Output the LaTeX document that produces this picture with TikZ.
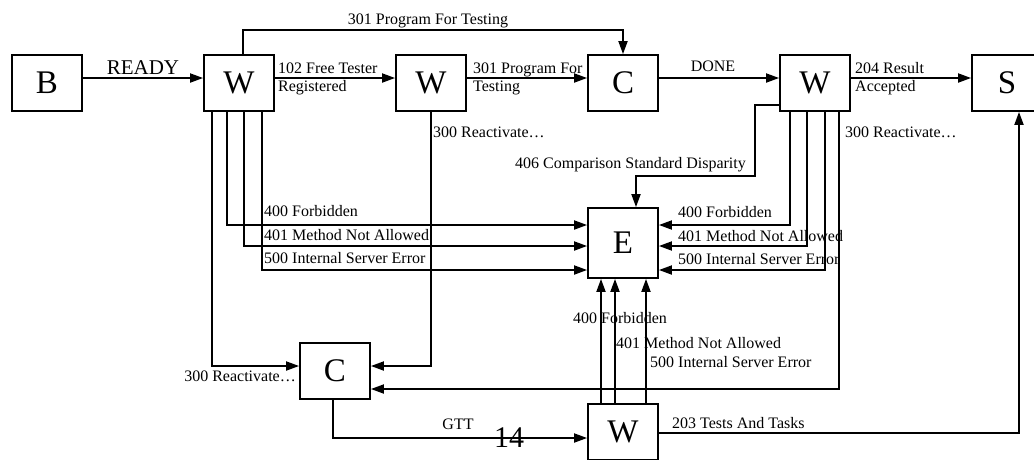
\documentclass[tikz,border=0pt]{standalone}
\usepackage{fontspec}
\setmainfont{Liberation Serif}
\usetikzlibrary{arrows.meta}
\begin{document}
\begin{tikzpicture}[x=1pt,y=-1pt,
  box/.style={draw,line width=1.8pt,minimum width=70pt,minimum height=56pt,inner sep=0pt,font=\fontsize{33}{33}\selectfont},
  conn/.style={line width=1.8pt,-{Triangle[length=13pt,width=9pt]}},
  plain/.style={line width=1.8pt},
  lbl/.style={inner sep=0pt,font=\fontsize{16}{16}\selectfont},
]
\clip (0,0) rectangle (1034,459);
% boxes
\node[box] (B)  at (47,83)  {B};
\node[box] (W1) at (239,83) {W};
\node[box] (W2) at (431,83) {W};
\node[box] (C1) at (623,83) {C};
\node[box] (W3) at (815,83) {W};
\node[box] (S)  at (1007,83) {S};
\node[box,minimum height=70pt] (E) at (623,243) {E};
\node[box] (C2) at (335,371) {C};
\node[box] (W4) at (623,432) {W};

% main row
\draw[conn] (B.east |- 0,78) -- (W1.west |- 0,78);
\draw[conn] (W1.east |- 0,78) -- (W2.west |- 0,78);
\draw[conn] (W2.east |- 0,78) -- (C1.west |- 0,78);
\draw[conn] (C1.east |- 0,78) -- (W3.west |- 0,78);
\draw[conn] (W3.east |- 0,78) -- (S.west |- 0,78);
\node[lbl,anchor=base,font=\fontsize{21}{21}\selectfont] (lready) at (143,74) {READY};
\node[lbl,anchor=base west] (l102a) at (278,73) {102 Free Tester};
\node[lbl,anchor=base west] (l102b) at (278,91) {Registered};
\node[lbl,anchor=base west] (l301a) at (473,73) {301 Program For};
\node[lbl,anchor=base west] (l301b) at (473,91) {Testing};
\node[lbl,anchor=base] (ldone) at (713,71) {DONE};
\node[lbl,anchor=base west] (l204a) at (855,73) {204 Result};
\node[lbl,anchor=base west] (l204b) at (855,91) {Accepted};

% top connector W1 -> C1
\draw[conn] (W1.north -| 243,0) |- (C1.north |- 0,30) -- (C1.north);
\node[lbl,anchor=base] (ltop) at (428,24) {301 Program For Testing};

% W1 lines
\draw[conn] (W1.south -| 212,0) |- (C2.west |- 0,366);
\draw[conn] (W1.south -| 227,0) |- (E.west |- 0,225);
\draw[conn] (W1.south -| 244,0) |- (E.west |- 0,246);
\draw[conn] (W1.south -| 262,0) |- (E.west |- 0,270);
\node[lbl,anchor=base east] (lr1) at (296,381) {300 Reactivate…};
\node[lbl,anchor=base west] (l1a) at (264,216) {400 Forbidden};
\node[lbl,anchor=base west] (l1b) at (264,240) {401 Method Not Allowed};
\node[lbl,anchor=base west] (l1c) at (264,263) {500 Internal Server Error};

% W2 line
\draw[conn] (W2.south) |- (C2.east |- 0,366);
\node[lbl,anchor=base west] (lr2) at (433,137) {300 Reactivate…};

% W3 left -> E top
\draw[conn] (W3.west |- 0,105) -- (755,105) -- (755,176) -- (636,176) -- (E.north -| 636,0);
\node[lbl,anchor=base west] (l406) at (515,168) {406 Comparison Standard Disparity};

% W3 lines
\draw[conn] (W3.south -| 790,0) |- (E.east |- 0,225);
\draw[conn] (W3.south -| 807,0) |- (E.east |- 0,246);
\draw[conn] (W3.south -| 825,0) |- (E.east |- 0,270);
\draw[conn] (W3.south -| 839,0) |- (C2.east |- 0,389);
\node[lbl,anchor=base west] (l3a) at (678,217) {400 Forbidden};
\node[lbl,anchor=base west] (l3b) at (678,241) {401 Method Not Allowed};
\node[lbl,anchor=base west] (l3c) at (678,264) {500 Internal Server Error};
\node[lbl,anchor=base west] (lr3) at (845,137) {300 Reactivate…};

% W4 lines up to E
\draw[conn] (W4.north -| 601,0) -- (E.south -| 601,0);
\draw[conn] (W4.north -| 615,0) -- (E.south -| 615,0);
\draw[conn] (W4.north -| 646,0) -- (E.south -| 646,0);
\node[lbl,anchor=base west] (l4a) at (573,323) {400 Forbidden};
\node[lbl,anchor=base west] (l4b) at (616,348) {401 Method Not Allowed};
\node[lbl,anchor=base west] (l4c) at (650,367) {500 Internal Server Error};

% C2 -> W4
\draw[conn] (C2.south -| 333,0) |- (W4.west |- 0,438);
\node[lbl,anchor=base] (lgtt) at (458,429) {GTT};

% W4 -> S
\draw[conn] (W4.east |- 0,433) -| (S.south -| 1019,0);
\node[lbl,anchor=base west] (l203) at (672,428) {203 Tests And Tasks};

% page number
\node[inner sep=0pt,anchor=base west,font=\fontsize{30}{30}\selectfont] (pg) at (494,447) {14};
\end{tikzpicture}
\end{document}
